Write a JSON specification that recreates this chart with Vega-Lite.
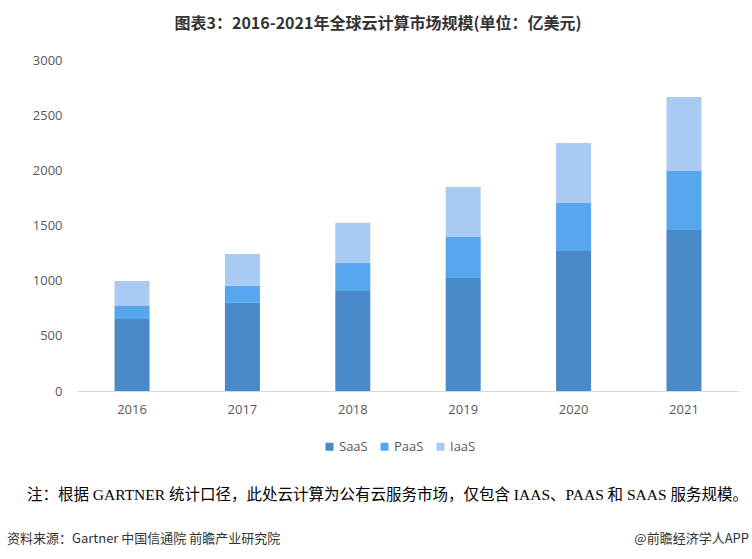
{
  "$schema": "https://vega.github.io/schema/vega-lite/v6.json",
  "width": 662,
  "height": 331,
  "autosize": {"type": "none"},
  "padding": {"left": 77, "top": 60, "right": 13, "bottom": 168},
  "background": "#ffffff",
  "config": {"view": {"stroke": null}},
  "title": {
    "text": "图表3：2016-2021年全球云计算市场规模(单位：亿美元)",
    "font": "Noto Sans CJK SC",
    "fontSize": 16,
    "fontWeight": "bold",
    "color": "#333333",
    "anchor": "middle",
    "dx": -30,
    "offset": 22
  },
  "datasets": {
    "market": [
      {"year": "2016", "type": "SaaS", "value": 653},
      {"year": "2016", "type": "PaaS", "value": 117},
      {"year": "2016", "type": "IaaS", "value": 227},
      {"year": "2017", "type": "SaaS", "value": 800},
      {"year": "2017", "type": "PaaS", "value": 154},
      {"year": "2017", "type": "IaaS", "value": 288},
      {"year": "2018", "type": "SaaS", "value": 906},
      {"year": "2018", "type": "PaaS", "value": 257},
      {"year": "2018", "type": "IaaS", "value": 362},
      {"year": "2019", "type": "SaaS", "value": 1024},
      {"year": "2019", "type": "PaaS", "value": 372},
      {"year": "2019", "type": "IaaS", "value": 453},
      {"year": "2020", "type": "SaaS", "value": 1269},
      {"year": "2020", "type": "PaaS", "value": 435},
      {"year": "2020", "type": "IaaS", "value": 544},
      {"year": "2021", "type": "SaaS", "value": 1459},
      {"year": "2021", "type": "PaaS", "value": 535},
      {"year": "2021", "type": "IaaS", "value": 671}
    ],
    "sourceLeft": [{"label": "资料来源：Gartner 中国信通院 前瞻产业研究院"}],
    "sourceRight": [{"label": "@前瞻经济学人APP"}]
  },
  "layer": [
    {
      "data": {"name": "market"},
      "mark": {"type": "bar"},
      "encoding": {
        "x": {
          "field": "year",
          "type": "ordinal",
          "scale": {"paddingInner": 0.683, "paddingOuter": 0.34},
          "axis": {
            "title": "注：根据 GARTNER 统计口径，此处云计算为公有云服务市场，仅包含 IAAS、PAAS 和 SAAS 服务规模。",
            "titleFont": "Liberation Serif, Noto Sans CJK SC",
            "titleFontSize": 15.5,
            "titleFontWeight": "normal",
            "titleColor": "#000000",
            "titleX": 310,
            "titleY": 103,
            "titleBaseline": "middle",
            "titleAnchor": null,
            "labelAngle": 0,
            "labelFont": "Open Sans",
            "labelFontSize": 13,
            "labelColor": "#595959",
            "labelPadding": 12,
            "ticks": false,
            "domainColor": "#d9d9d9",
            "domainWidth": 1
          }
        },
        "y": {
          "field": "value",
          "type": "quantitative",
          "stack": "zero",
          "scale": {"domain": [0, 3000], "nice": false},
          "axis": {
            "title": null,
            "values": [0, 500, 1000, 1500, 2000, 2500, 3000],
            "format": "d",
            "grid": false,
            "domain": false,
            "ticks": false,
            "labelFont": "Open Sans",
            "labelFontSize": 13,
            "labelColor": "#595959",
            "labelPadding": 15
          }
        },
        "color": {
          "field": "type",
          "type": "nominal",
          "sort": ["SaaS", "PaaS", "IaaS"],
          "scale": {
            "domain": ["SaaS", "PaaS", "IaaS"],
            "range": ["#4a89c8", "#56a6ee", "#a9caf3"]
          },
          "legend": {
            "title": null,
            "orient": "none",
            "direction": "horizontal",
            "legendX": 246,
            "legendY": 380,
            "symbolType": "square",
            "symbolSize": 64,
            "symbolStrokeWidth": 0,
            "labelFont": "Open Sans",
            "labelFontSize": 13,
            "labelColor": "#595959",
            "labelOffset": 3,
            "columnPadding": 10
          }
        }
      }
    },
    {
      "data": {"name": "sourceLeft"},
      "mark": {"type": "text", "align": "left", "baseline": "middle", "font": "Liberation Sans Narrow, Noto Sans CJK SC", "fontSize": 13, "color": "#333333"},
      "encoding": {
        "text": {"field": "label"},
        "x": {"value": -70},
        "y": {"value": 479}
      }
    },
    {
      "data": {"name": "sourceRight"},
      "mark": {"type": "text", "align": "right", "baseline": "middle", "font": "Liberation Sans Narrow, Noto Sans CJK SC", "fontSize": 13, "color": "#333333"},
      "encoding": {
        "text": {"field": "label"},
        "x": {"value": 672},
        "y": {"value": 479}
      }
    }
  ]
}
